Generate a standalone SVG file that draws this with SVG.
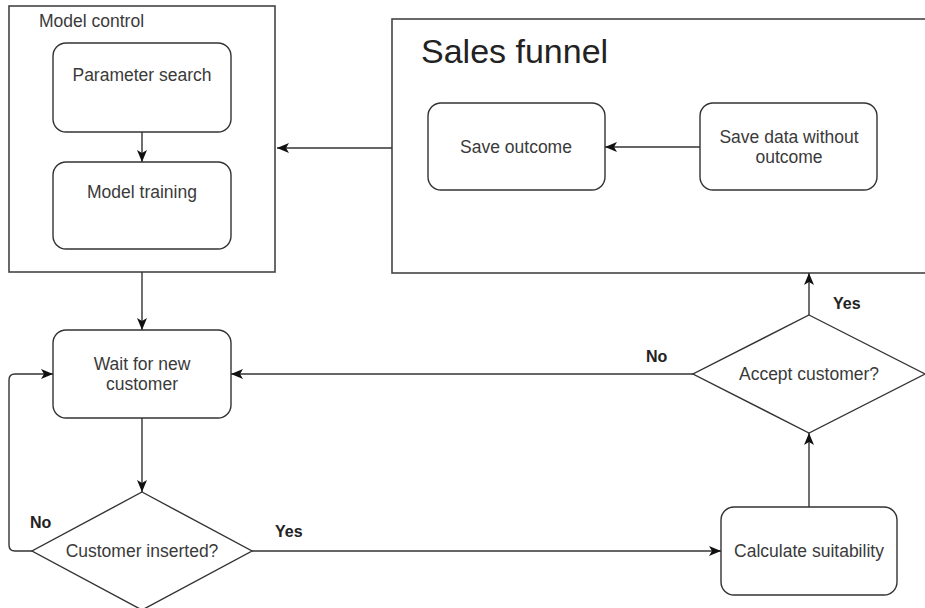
<svg xmlns="http://www.w3.org/2000/svg" width="925" height="608" viewBox="0 0 925 608">
<defs>
<style>
.box{fill:#fff;stroke:#333;stroke-width:1.4}
.cont{fill:#fff;stroke:#444;stroke-width:1.6}
.t{font-family:"Liberation Sans",Arial,sans-serif;font-size:17.5px;fill:#3a3a3a;text-anchor:middle}
.lbl{font-family:"Liberation Sans",Arial,sans-serif;font-size:16px;font-weight:bold;fill:#222}
.edge{fill:none;stroke:#333;stroke-width:1.4;marker-end:url(#arr)}
</style>
<marker id="arr" markerUnits="userSpaceOnUse" markerWidth="13" markerHeight="11" refX="12" refY="5.5" orient="auto">
<path d="M0,0.5 L12,5.5 L0,10.5 L3,5.5 Z" fill="#111"/>
</marker>
</defs>
<rect width="925" height="608" fill="#fff"/>
<g id="model-control">
<rect class="cont" x="9" y="6" width="266" height="266"/>
<text class="t" x="39" y="27" style="text-anchor:start">Model control</text>
</g>
<g id="sales-funnel">
<rect class="cont" x="392" y="19" width="545" height="254"/>
<text x="421" y="63" style="font-family:'Liberation Sans',Arial,sans-serif;font-size:34px;fill:#222">Sales funnel</text>
</g>
<g id="parameter-search">
<rect class="box" x="53" y="43" width="178" height="89" rx="13"/>
<text class="t" x="142" y="81">Parameter search</text>
</g>
<g id="model-training">
<rect class="box" x="53" y="162" width="178" height="87" rx="13"/>
<text class="t" x="142" y="198">Model training</text>
</g>
<g id="save-outcome">
<rect class="box" x="428" y="103" width="177" height="87" rx="13"/>
<text class="t" x="516" y="153">Save outcome</text>
</g>
<g id="save-data">
<rect class="box" x="700" y="103" width="177" height="87" rx="13"/>
<text class="t" x="789" y="143">Save data without</text>
<text class="t" x="789" y="163">outcome</text>
</g>
<g id="wait">
<rect class="box" x="53" y="330" width="178" height="88" rx="13"/>
<text class="t" x="142" y="370">Wait for new</text>
<text class="t" x="142" y="390">customer</text>
</g>
<g id="customer-inserted">
<polygon class="box" points="142,492 252,551 142,610 32,551"/>
<text class="t" x="142" y="557">Customer inserted?</text>
</g>
<g id="accept-customer">
<polygon class="box" points="809,315 925,374 809,433 693,374"/>
<text class="t" x="809" y="380">Accept customer?</text>
</g>
<g id="calculate">
<rect class="box" x="721" y="507" width="176" height="88" rx="13"/>
<text class="t" x="809" y="557">Calculate suitability</text>
</g>
<g id="connectors">
<path class="edge" d="M142,132 L142,162"/>
<path class="edge" d="M392,148 L277,148"/>
<path class="edge" d="M700,147 L605,147"/>
<path class="edge" d="M142,272 L142,330"/>
<path class="edge" d="M142,418 L142,492"/>
<path class="edge" d="M32,551 L15,551 Q9,551 9,545 L9,380 Q9,374 15,374 L53,374"/>
<path class="edge" d="M252,551 L721,551"/>
<path class="edge" d="M809,507 L809,433"/>
<path class="edge" d="M809,315 L809,273"/>
<path class="edge" d="M693,374 L231,374"/>
<text class="lbl" x="30" y="528">No</text>
<text class="lbl" x="275" y="537">Yes</text>
<text class="lbl" x="646" y="362">No</text>
<text class="lbl" x="833" y="309">Yes</text>
</g>
</svg>
